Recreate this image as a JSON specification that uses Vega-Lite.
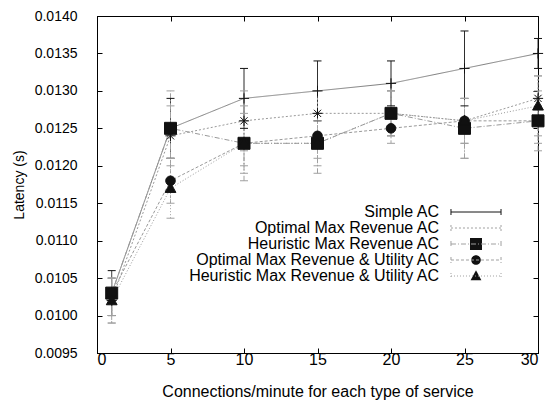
{
  "$schema": "https://vega.github.io/schema/vega-lite/v6.json",
  "width": 441,
  "height": 337,
  "autosize": {"type": "none"},
  "padding": {"left": 97, "top": 16, "right": 13, "bottom": 47},
  "background": "white",
  "config": {
    "view": {"stroke": "black", "strokeWidth": 1},
    "font": "Liberation Sans",
    "axis": {"grid": false, "domainColor": "black", "tickColor": "black", "labelColor": "black", "titleColor": "black", "titleFontWeight": "normal", "labelFont": "Liberation Sans", "titleFont": "Liberation Sans"}
  },
  "data": {
    "values": [
      {"x": 1, "series": "Simple AC", "y": 0.0103, "lo": 0.0100, "hi": 0.0106},
      {"x": 5, "series": "Simple AC", "y": 0.0125, "lo": 0.0121, "hi": 0.0129},
      {"x": 10, "series": "Simple AC", "y": 0.0129, "lo": 0.0125, "hi": 0.0133},
      {"x": 15, "series": "Simple AC", "y": 0.0130, "lo": 0.0126, "hi": 0.0134},
      {"x": 20, "series": "Simple AC", "y": 0.0131, "lo": 0.0128, "hi": 0.0134},
      {"x": 25, "series": "Simple AC", "y": 0.0133, "lo": 0.0128, "hi": 0.0138},
      {"x": 30, "series": "Simple AC", "y": 0.0135, "lo": 0.0133, "hi": 0.0137},
      {"x": 1, "series": "Optimal Max Revenue AC", "y": 0.0102, "lo": 0.0099, "hi": 0.0105},
      {"x": 5, "series": "Optimal Max Revenue AC", "y": 0.0124, "lo": 0.0120, "hi": 0.0128},
      {"x": 10, "series": "Optimal Max Revenue AC", "y": 0.0126, "lo": 0.0122, "hi": 0.0130},
      {"x": 15, "series": "Optimal Max Revenue AC", "y": 0.0127, "lo": 0.0124, "hi": 0.0130},
      {"x": 20, "series": "Optimal Max Revenue AC", "y": 0.0127, "lo": 0.0124, "hi": 0.0130},
      {"x": 25, "series": "Optimal Max Revenue AC", "y": 0.0126, "lo": 0.0123, "hi": 0.0129},
      {"x": 30, "series": "Optimal Max Revenue AC", "y": 0.0129, "lo": 0.0126, "hi": 0.0132},
      {"x": 1, "series": "Heuristic Max Revenue AC", "y": 0.0103, "lo": 0.0100, "hi": 0.0105},
      {"x": 5, "series": "Heuristic Max Revenue AC", "y": 0.0125, "lo": 0.0121, "hi": 0.0130},
      {"x": 10, "series": "Heuristic Max Revenue AC", "y": 0.0123, "lo": 0.0118, "hi": 0.0128},
      {"x": 15, "series": "Heuristic Max Revenue AC", "y": 0.0123, "lo": 0.0119, "hi": 0.0127},
      {"x": 20, "series": "Heuristic Max Revenue AC", "y": 0.0127, "lo": 0.0124, "hi": 0.0130},
      {"x": 25, "series": "Heuristic Max Revenue AC", "y": 0.0125, "lo": 0.0121, "hi": 0.0129},
      {"x": 30, "series": "Heuristic Max Revenue AC", "y": 0.0126, "lo": 0.0122, "hi": 0.0130},
      {"x": 1, "series": "Optimal Max Revenue & Utility AC", "y": 0.0103, "lo": 0.0100, "hi": 0.0105},
      {"x": 5, "series": "Optimal Max Revenue & Utility AC", "y": 0.0118, "lo": 0.0115, "hi": 0.0121},
      {"x": 10, "series": "Optimal Max Revenue & Utility AC", "y": 0.0123, "lo": 0.0120, "hi": 0.0126},
      {"x": 15, "series": "Optimal Max Revenue & Utility AC", "y": 0.0124, "lo": 0.0121, "hi": 0.0127},
      {"x": 20, "series": "Optimal Max Revenue & Utility AC", "y": 0.0125, "lo": 0.0123, "hi": 0.0127},
      {"x": 25, "series": "Optimal Max Revenue & Utility AC", "y": 0.0126, "lo": 0.0123, "hi": 0.0129},
      {"x": 30, "series": "Optimal Max Revenue & Utility AC", "y": 0.0126, "lo": 0.0124, "hi": 0.0128},
      {"x": 1, "series": "Heuristic Max Revenue & Utility AC", "y": 0.0102, "lo": 0.0099, "hi": 0.0105},
      {"x": 5, "series": "Heuristic Max Revenue & Utility AC", "y": 0.0117, "lo": 0.0113, "hi": 0.0121},
      {"x": 10, "series": "Heuristic Max Revenue & Utility AC", "y": 0.0123, "lo": 0.0119, "hi": 0.0127},
      {"x": 15, "series": "Heuristic Max Revenue & Utility AC", "y": 0.0123, "lo": 0.0120, "hi": 0.0126},
      {"x": 20, "series": "Heuristic Max Revenue & Utility AC", "y": 0.0127, "lo": 0.0124, "hi": 0.0130},
      {"x": 25, "series": "Heuristic Max Revenue & Utility AC", "y": 0.0126, "lo": 0.0121, "hi": 0.0129},
      {"x": 30, "series": "Heuristic Max Revenue & Utility AC", "y": 0.0128, "lo": 0.0123, "hi": 0.0132}
    ]
  },
  "layer": [
    {
      "mark": {"type": "line", "strokeWidth": 1},
      "encoding": {
        "x": {"field": "x", "type": "quantitative", "scale": {"domain": [0, 30], "nice": false, "zero": false},
          "axis": {"orient": "bottom", "values": [0, 5, 10, 15, 20, 25, 30], "tickSize": -5, "labelFontSize": 16, "labelPadding": 3, "title": "Connections/minute for each type of service", "titleFontSize": 16, "titlePadding": 16}},
        "y": {"field": "y", "type": "quantitative", "scale": {"domain": [0.0095, 0.014], "nice": false, "zero": false},
          "axis": {"orient": "left", "values": [0.0095, 0.01, 0.0105, 0.011, 0.0115, 0.012, 0.0125, 0.013, 0.0135, 0.014], "format": ".4f", "tickSize": -5, "labelFontSize": 14, "labelPadding": 25, "title": "Latency (s)", "titleFontSize": 14, "titlePadding": 8}},
        "color": {"field": "series", "type": "nominal", "legend": null,
          "scale": {"domain": ["Simple AC", "Optimal Max Revenue AC", "Heuristic Max Revenue AC", "Optimal Max Revenue & Utility AC", "Heuristic Max Revenue & Utility AC"], "range": ["#808080", "#999999", "#999999", "#999999", "#999999"]}},
        "strokeDash": {"field": "series", "type": "nominal", "legend": null,
          "scale": {"domain": ["Simple AC", "Optimal Max Revenue AC", "Heuristic Max Revenue AC", "Optimal Max Revenue & Utility AC", "Heuristic Max Revenue & Utility AC"], "range": [[1, 0], [2, 2], [5, 2, 1, 2], [3, 2], [1, 2]]}}
      }
    },
    {
      "mark": {"type": "rule", "strokeWidth": 1},
      "encoding": {
        "x": {"field": "x", "type": "quantitative", "axis": {"orient": "top", "values": [0, 5, 10, 15, 20, 25, 30], "tickSize": -5, "labels": false, "domain": false, "title": null}},
        "y": {"field": "lo", "type": "quantitative", "axis": {"orient": "right", "values": [0.0095, 0.01, 0.0105, 0.011, 0.0115, 0.012, 0.0125, 0.013, 0.0135, 0.014], "tickSize": -5, "labels": false, "domain": false, "title": null}},
        "y2": {"field": "hi"},
        "color": {"field": "series", "type": "nominal",
          "scale": {"domain": ["Simple AC", "Optimal Max Revenue AC", "Heuristic Max Revenue AC", "Optimal Max Revenue & Utility AC", "Heuristic Max Revenue & Utility AC"], "range": ["#111111", "#a0a0a0", "#a0a0a0", "#a0a0a0", "#a0a0a0"]},
          "legend": {"orient": "none", "legendX": 371, "legendY": 188, "title": null, "padding": 0, "labelAlign": "right", "labelOffset": -45, "labelFontSize": 16, "labelFont": "Liberation Sans", "labelColor": "black", "labelLimit": 500, "rowPadding": -3, "symbolSize": 144, "symbolStrokeWidth": 1, "symbolType": "M-4.17,0H4.17M-4.17,-0.5V0.5M4.17,-0.5V0.5"}},
        "strokeDash": {"field": "series", "type": "nominal",
          "scale": {"domain": ["Simple AC", "Optimal Max Revenue AC", "Heuristic Max Revenue AC", "Optimal Max Revenue & Utility AC", "Heuristic Max Revenue & Utility AC"], "range": [[1, 0], [2, 2], [5, 2, 1, 2], [3, 2], [1, 2]]},
          "legend": {"orient": "none", "legendX": 371, "legendY": 188, "title": null, "padding": 0, "labelAlign": "right", "labelOffset": -45, "labelFontSize": 16, "labelFont": "Liberation Sans", "labelColor": "black", "labelLimit": 500, "rowPadding": -3, "symbolSize": 144, "symbolStrokeWidth": 1, "symbolType": "M-4.17,0H4.17M-4.17,-0.5V0.5M4.17,-0.5V0.5"}}
      }
    },
    {
      "mark": {"type": "tick", "orient": "horizontal", "size": 8, "thickness": 1, "opacity": 1},
      "encoding": {
        "x": {"field": "x", "type": "quantitative", "axis": null},
        "y": {"field": "lo", "type": "quantitative", "axis": null},
        "color": {"field": "series", "type": "nominal", "legend": null,
          "scale": {"domain": ["Simple AC", "Optimal Max Revenue AC", "Heuristic Max Revenue AC", "Optimal Max Revenue & Utility AC", "Heuristic Max Revenue & Utility AC"], "range": ["#111111", "#a0a0a0", "#a0a0a0", "#a0a0a0", "#a0a0a0"]}}
      }
    },
    {
      "mark": {"type": "tick", "orient": "horizontal", "size": 8, "thickness": 1, "opacity": 1},
      "encoding": {
        "x": {"field": "x", "type": "quantitative", "axis": null},
        "y": {"field": "hi", "type": "quantitative", "axis": null},
        "color": {"field": "series", "type": "nominal", "legend": null,
          "scale": {"domain": ["Simple AC", "Optimal Max Revenue AC", "Heuristic Max Revenue AC", "Optimal Max Revenue & Utility AC", "Heuristic Max Revenue & Utility AC"], "range": ["#111111", "#a0a0a0", "#a0a0a0", "#a0a0a0", "#a0a0a0"]}}
      }
    },
    {
      "mark": {"type": "point", "filled": true, "fill": "#111111", "stroke": "#111111", "strokeWidth": 1, "size": 144, "opacity": 1},
      "encoding": {
        "x": {"field": "x", "type": "quantitative", "axis": null},
        "y": {"field": "y", "type": "quantitative", "axis": null},
        "shape": {"field": "series", "type": "nominal",
          "scale": {"domain": ["Simple AC", "Optimal Max Revenue AC", "Heuristic Max Revenue AC", "Optimal Max Revenue & Utility AC", "Heuristic Max Revenue & Utility AC"],
            "range": ["M-0.85,0H0.85M0,-0.85V0.85", "M-0.85,0H0.85M0,-0.85V0.85M-0.6,-0.6L0.6,0.6M-0.6,0.6L0.6,-0.6", "M-1,-1H1V1H-1Z", "M0.8,0A0.8,0.8 0 1,1 -0.8,0A0.8,0.8 0 1,1 0.8,0Z", "M0,-0.95L0.9,0.7H-0.9Z"]},
          "legend": {"orient": "none", "legendX": 371, "legendY": 188, "title": null, "padding": 0, "labelAlign": "right", "labelOffset": -45, "labelFontSize": 16, "labelFont": "Liberation Sans", "labelColor": "black", "labelOpacity": 0, "labelLimit": 500, "rowPadding": -3, "symbolSize": 144, "symbolStrokeWidth": 1, "symbolStrokeColor": "#111111", "symbolFillColor": "#111111"}
        }
      }
    }
  ],
  "resolve": {
    "scale": {"color": "independent", "strokeDash": "independent"},
    "axis": {"x": "independent", "y": "independent"}
  }
}
